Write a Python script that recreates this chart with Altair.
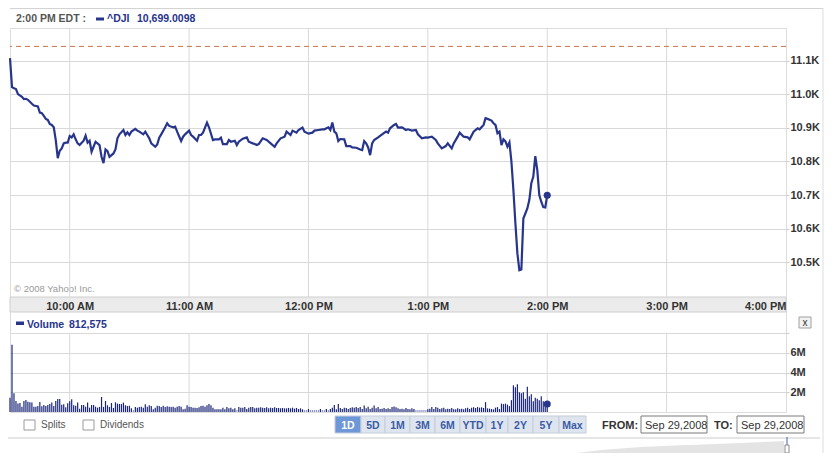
import altair as alt
import pandas as pd

# ---------------- data ----------------
# minutes after the 9:30 AM open, and ^DJI level
price_minutes = [
    0, 1, 2, 3, 4, 6, 7, 8, 9, 11,
    12, 14, 15, 16, 17, 18, 19, 20, 21, 22,
    23, 24, 25, 26, 27, 28, 29, 30, 31, 32,
    33, 34, 35, 37, 38, 39, 40, 41, 42, 43,
    45, 46, 47, 48, 49, 50, 52, 53, 54, 55,
    57, 58, 59, 60, 61, 63, 64, 65, 67, 68,
    69, 70, 71, 73, 74, 75, 76, 78, 79, 80,
    82, 83, 84, 86, 87, 88, 90, 91, 92, 94,
    95, 96, 97, 99, 100, 102, 103, 105, 106, 107,
    109, 110, 111, 113, 114, 115, 117, 119, 120, 122,
    123, 124, 125, 127, 129, 131, 133, 134, 136, 138,
    139, 141, 142, 144, 145, 147, 148, 150, 152, 153,
    155, 157, 158, 160, 161, 162, 163, 164, 165, 166,
    168, 169, 171, 172, 174, 176, 177, 178, 179, 180,
    181, 182, 183, 185, 187, 189, 190, 191, 193, 194,
    195, 197, 199, 200, 202, 204, 205, 207, 209, 210,
    212, 214, 215, 217, 219, 220, 222, 223, 225, 226,
    228, 230, 231, 233, 235, 236, 238, 239, 240, 242,
    243, 244, 245, 246, 247, 248, 249, 250, 251, 252,
    253, 254, 255, 256, 257, 258, 259, 260, 261, 262,
    263, 264, 265, 266, 267, 268, 269, 270,
]
price_values = [
    11108, 11022, 11018, 11016, 11001, 10993, 10986, 10987, 10984, 10972,
    10967, 10964, 10946, 10944, 10936, 10927, 10924, 10912, 10909, 10902,
    10864, 10810, 10832, 10839, 10854, 10856, 10856, 10876, 10872, 10881,
    10866, 10854, 10849, 10862, 10877, 10856, 10862, 10829, 10844, 10859,
    10849, 10814, 10795, 10836, 10831, 10814, 10824, 10836, 10869, 10881,
    10894, 10879, 10887, 10879, 10889, 10897, 10892, 10889, 10881, 10889,
    10879, 10869, 10854, 10844, 10851, 10871, 10881, 10902, 10914, 10906,
    10902, 10904, 10889, 10861, 10874, 10881, 10892, 10879, 10874, 10862,
    10879, 10879, 10886, 10916, 10902, 10864, 10866, 10866, 10871, 10852,
    10852, 10864, 10859, 10862, 10849, 10859, 10868, 10872, 10859, 10854,
    10852, 10849, 10852, 10869, 10864, 10854, 10844, 10854, 10869, 10874,
    10889, 10879, 10892, 10886, 10894, 10901, 10889, 10883, 10886, 10892,
    10894, 10896, 10896, 10902, 10894, 10916, 10889, 10884, 10861, 10867,
    10866, 10846, 10846, 10842, 10841, 10836, 10834, 10861, 10854, 10842,
    10819, 10854, 10864, 10872, 10881, 10889, 10886, 10899, 10909, 10912,
    10901, 10902, 10894, 10896, 10892, 10894, 10881, 10869, 10872, 10871,
    10874, 10864, 10854, 10839, 10846, 10854, 10839, 10854, 10874, 10886,
    10874, 10872, 10866, 10889, 10899, 10896, 10909, 10929, 10927, 10922,
    10914, 10909, 10884, 10889, 10849, 10866, 10860, 10844, 10857, 10800,
    10715, 10616, 10526, 10476, 10478, 10630, 10645, 10660, 10685, 10735,
    10755, 10816, 10775, 10700, 10680, 10664, 10663, 10699.0098,
]
prev_close = 11143.13
last_price = 10699.0098

# one volume bar per minute from 9:30, in millions
volume_millions = [
    1.45, 6.80, 1.90, 1.12, 0.85, 0.91, 0.54, 1.12, 1.22, 1.05,
    0.98, 0.95, 0.54, 0.54, 0.61, 1.01, 0.57, 0.71, 0.61, 0.71,
    0.81, 0.95, 0.61, 1.12, 1.32, 1.32, 0.74, 0.78, 0.47, 0.88,
    1.08, 1.28, 0.68, 0.64, 0.95, 0.34, 0.71, 0.71, 0.54, 0.95,
    0.44, 0.71, 0.71, 0.54, 0.44, 0.51, 1.52, 0.51, 1.12, 0.68,
    0.51, 0.91, 0.41, 0.98, 0.85, 0.81, 0.81, 0.95, 0.68, 0.61,
    0.64, 0.37, 0.20, 0.51, 0.44, 0.51, 0.54, 0.44, 0.78, 0.54,
    0.68, 0.61, 0.27, 0.44, 0.64, 0.61, 0.51, 0.64, 0.51, 0.57,
    0.54, 0.51, 0.54, 0.44, 0.54, 0.61, 0.54, 0.27, 0.34, 0.68,
    0.54, 0.51, 0.44, 0.44, 0.41, 0.47, 0.61, 0.64, 0.54, 0.68,
    0.81, 0.68, 0.44, 0.27, 0.27, 0.27, 0.27, 0.44, 0.27, 0.51,
    0.37, 0.44, 0.27, 0.37, 0.20, 0.51, 0.44, 0.44, 0.51, 0.30,
    0.44, 0.51, 0.51, 0.37, 0.44, 0.44, 0.47, 0.44, 0.41, 0.47,
    0.37, 0.44, 0.41, 0.47, 0.41, 0.41, 0.37, 0.41, 0.37, 0.37,
    0.41, 0.37, 0.44, 0.34, 0.41, 0.30, 0.37, 0.27, 0.20, 0.20,
    0.30, 0.20, 0.20, 0.20, 0.20, 0.20, 0.30, 0.20, 0.20, 0.30,
    0.20, 0.30, 0.44, 0.70, 0.27, 0.80, 0.41, 0.30, 0.44, 0.41,
    0.30, 0.41, 0.47, 0.44, 0.51, 0.41, 0.51, 0.30, 0.65, 0.37,
    0.54, 0.30, 0.44, 0.65, 0.37, 0.50, 0.30, 0.34, 0.41, 0.30,
    0.37, 0.30, 0.51, 0.55, 0.47, 0.37, 0.30, 0.34, 0.27, 0.41,
    0.30, 0.27, 0.37, 0.30, 0.20, 0.20, 0.20, 0.20, 0.20, 0.20,
    0.27, 0.34, 0.50, 0.30, 0.51, 0.44, 0.30, 0.37, 0.44, 0.27,
    0.34, 0.30, 0.41, 0.27, 0.27, 0.37, 0.30, 0.34, 0.27, 0.37,
    0.44, 0.30, 0.44, 0.47, 0.41, 0.51, 0.44, 0.47, 0.41, 1.00,
    0.37, 0.34, 0.30, 0.27, 0.44, 0.50, 0.30, 0.85, 0.80, 0.85,
    0.75, 0.60, 1.20, 2.70, 2.50, 2.80, 2.00, 1.90, 2.00, 1.35,
    2.55, 1.60, 1.80, 1.10, 1.45, 1.35, 1.20, 1.60, 1.10, 0.80,
    0.812575,
]
last_volume = 812575

hour_ticks = [30, 90, 150, 210, 270, 330, 390]
price_ticks = [10500, 10600, 10700, 10800, 10900, 11000, 11100]
volume_ticks = [2, 4, 6, 8]
range_buttons = ["1D", "5D", "1M", "3M", "6M", "YTD", "1Y", "2Y", "5Y", "Max"]
date_from = "Sep 29,2008"
date_to = "Sep 29,2008"
symbol = "^DJI"
time_label = "2:00 PM EDT :"
# long-range navigator strip (faint, bottom right)
nav_minutes = [285, 297, 317, 339, 342, 367, 389]
nav_levels = [0.0, 0.2, 0.4, 0.53, 0.53, 0.67, 0.8]

# ---------------- layout / style ----------------
FONT = "Liberation Sans"
NAVY = "#27358c"
W, H = 776, 384
PRICE_BOTTOM = 269
BAND_BOTTOM = 284
VOL_TOP, VOL_BOTTOM = 305, 384
button_edges = [325, 351, 375, 400, 425, 450, 476, 498, 523, 549, 576]

price_df = pd.DataFrame({"minute": price_minutes, "price": price_values})
vol_df = pd.DataFrame({"minute": list(range(len(volume_millions))), "vol": volume_millions})
hours_df = pd.DataFrame({"minute": hour_ticks[:-1]})
nav_df = pd.DataFrame({"minute": nav_minutes, "lvl": nav_levels})

xs = alt.Scale(domain=[0, 390], nice=False, zero=False, padding=0)
hour_expr = "floor(datum.value/60 + 9.5)"
xaxis = alt.Axis(
    values=hour_ticks,
    labelExpr=f"({hour_expr} > 12 ? {hour_expr} - 12 : {hour_expr}) + ':00 ' + (datum.value/60 + 9.5 < 12 ? 'AM' : 'PM')",
    labelAlign={"condition": {"test": "datum.value >= 390", "value": "right"}, "value": "center"},
    grid=False, ticks=False, domain=False, offset=-(H - PRICE_BOTTOM),
    labelPadding=3, labelFontWeight="bold", labelFontSize=11,
    labelColor="#333333", title=None, zindex=2, labelFont=FONT,
)
py = alt.Scale(domain=[10396, 11198], range=[PRICE_BOTTOM, 0], nice=False, zero=False)
pyaxis = alt.Axis(
    orient="right", values=price_ticks,
    labelExpr="format(datum.value/1000, '.1f') + 'K'",
    grid=True, gridColor="#d9d9d9", tickSize=3, tickColor="#cccccc", domain=False,
    labelPadding=1, labelFontWeight="bold", labelFontSize=11, labelColor="#333333",
    title=None, labelFont=FONT,
)
vy = alt.Scale(domain=[0, 8], range=[VOL_BOTTOM, VOL_TOP], nice=False, zero=True)
vaxis = alt.Axis(
    orient="right", values=volume_ticks,
    labelExpr="datum.value < 8 ? datum.value + 'M' : ''",
    grid=True, gridColor="#d9d9d9", tickSize=3, tickColor="#cccccc", domain=False,
    labelPadding=1, labelFontWeight="bold", labelFontSize=11, labelColor="#333333",
    title=None, labelFont=FONT,
)


def X():
    return alt.X("minute:Q", scale=xs, axis=xaxis)


def one():
    return alt.Chart(pd.DataFrame({"k": [0]}))


def text(s, x, y, size=10.5, color="#333333", weight="normal", align="left", baseline="alphabetic"):
    return one().mark_text(text=s, font=FONT, fontSize=size, fontWeight=weight, color=color,
                           align=align, baseline=baseline).encode(x=alt.value(x), y=alt.value(y))


def rect(x1, y1, x2, y2, fill, stroke=None, sw=1):
    kw = {"fill": fill}
    if stroke:
        kw.update(stroke=stroke, strokeWidth=sw)
    return one().mark_rect(**kw).encode(x=alt.value(x1), x2=alt.value(x2), y=alt.value(y1), y2=alt.value(y2))


def hrule(x1, x2, y, color, sw=1):
    return one().mark_rule(color=color, strokeWidth=sw).encode(x=alt.value(x1), x2=alt.value(x2), y=alt.value(y))


def vrule(x, y1, y2, color, sw=1):
    return one().mark_rule(color=color, strokeWidth=sw).encode(x=alt.value(x), y=alt.value(y1), y2=alt.value(y2))


back = []
# header
back.append(hrule(0, 813, -19.5, "#d3d3d3"))
back.append(text(time_label, 6, -6, color="#555555", weight="bold"))
back.append(rect(86, -10.5, 94, -7.5, NAVY))
back.append(text(symbol, 97, -6, color=NAVY, weight="bold"))
back.append(text(f"{last_price:,.4f}", 127, -6, color=NAVY, weight="bold"))
# x-axis band and volume title
back.append(rect(0, PRICE_BOTTOM, W, BAND_BOTTOM, "#ebebeb", "#cfcfcf"))
back.append(rect(6, 293.5, 14, 297, NAVY))
back.append(text("Volume", 17, 299.5, color=NAVY, weight="bold"))
back.append(text(f"{last_volume:,}", 59, 299.5, color=NAVY, weight="bold"))
back.append(text("\u00a9 2008 Yahoo! Inc.", 4, 264, size=9.5, color="#999999"))

# price panel (with the hour grid lines, which share the x scale)
hour_grid_p = alt.Chart(hours_df).mark_rule(color="#d9d9d9", strokeWidth=1).encode(
    x=X(), y=alt.value(0), y2=alt.value(PRICE_BOTTOM))
prev = alt.Chart(pd.DataFrame({"price": [prev_close]})).mark_rule(
    color="#cc7448", strokeDash=[5, 4], strokeWidth=1).encode(y=alt.Y("price:Q", scale=py, axis=pyaxis))
line = alt.Chart(price_df).mark_line(color=NAVY, strokeWidth=2.2).encode(
    x=X(), y=alt.Y("price:Q", scale=py, axis=pyaxis))
pdot = alt.Chart(price_df.tail(1)).mark_circle(size=50, color=NAVY, opacity=1).encode(
    x=X(), y=alt.Y("price:Q", scale=py, axis=pyaxis))
price_layer = alt.layer(hour_grid_p, prev, line, pdot)

# volume panel
hour_grid_v = alt.Chart(hours_df).mark_rule(color="#d9d9d9", strokeWidth=1).encode(
    x=X(), y=alt.value(VOL_TOP), y2=alt.value(VOL_BOTTOM))
bars = alt.Chart(vol_df).mark_bar(size=1.2).encode(
    x=X(),
    y=alt.Y("vol:Q", scale=vy, axis=vaxis),
    color=alt.condition("datum.vol < 0.25", alt.value("#8f93c8"), alt.value("#1b2678")),
)
vdot = alt.Chart(vol_df.tail(1)).mark_circle(size=50, color=NAVY, opacity=1).encode(
    x=X(), y=alt.Y("vol:Q", scale=vy, axis=vaxis))
vol_layer = alt.layer(hour_grid_v, bars, vdot)

front = []
# close button
front.append(rect(789, 289, 801, 300, "#f2f2f2", "#a0a0a0"))
front.append(text("x", 795, 294.5, size=10, color="#333333", align="center", baseline="middle"))

# bottom controls
front.append(rect(14, 392, 25, 402, "#ffffff", "#9a9a9a"))
front.append(text("Splits", 31, 400, size=10, color="#555555"))
front.append(rect(73, 392, 84, 402, "#ffffff", "#9a9a9a"))
front.append(text("Dividends", 90, 400, size=10, color="#555555"))
for i, lab in enumerate(range_buttons):
    x1, x2 = button_edges[i], button_edges[i + 1]
    sel = i == 0
    front.append(rect(x1, 388, x2, 405, "#6d97d6" if sel else "#dfe5ee", "#c3cddc"))
    front.append(text(lab, (x1 + x2) / 2, 400.5, size=10.5, weight="bold",
                      color="#ffffff" if sel else "#3b5ca6", align="center"))
front.append(text("FROM:", 592, 401, size=11, weight="bold", color="#333333"))
front.append(rect(631, 388, 697, 405, "#ffffff", "#7a7a7a"))
front.append(text(date_from, 635, 401, size=11, color="#333333"))
front.append(text("TO:", 704, 401, size=11, weight="bold", color="#333333"))
front.append(rect(727, 388, 794, 405, "#ffffff", "#7a7a7a"))
front.append(text(date_to, 731, 401, size=11, color="#333333"))
front.append(hrule(-2, 810, 410, "#cccccc"))

nav = alt.Chart(nav_df).mark_area(color="#e4e4e4").encode(
    x=X(),
    y=alt.Y("lvl:Q", scale=alt.Scale(domain=[0, 1], range=[425, 410]), axis=None),
)
front.append(vrule(777, 409, 419, "#3a63b8"))
front.append(rect(775, 417, 779, 425, "#ffffff", "#888888"))
front.append(vrule(813, -20, 425, "#dddddd"))

chart = alt.layer(*back, price_layer, vol_layer, nav, *front).resolve_scale(
    y="independent"
).properties(
    width=W, height=H,
    autosize=alt.AutoSizeParams(type="none"),
    padding={"left": 2, "top": 20, "right": 45, "bottom": 41},
).configure_view(stroke="#c4c4c4", strokeWidth=1).configure(font=FONT)

chart.save("out.html", embed_options={"renderer": "svg", "actions": False})
